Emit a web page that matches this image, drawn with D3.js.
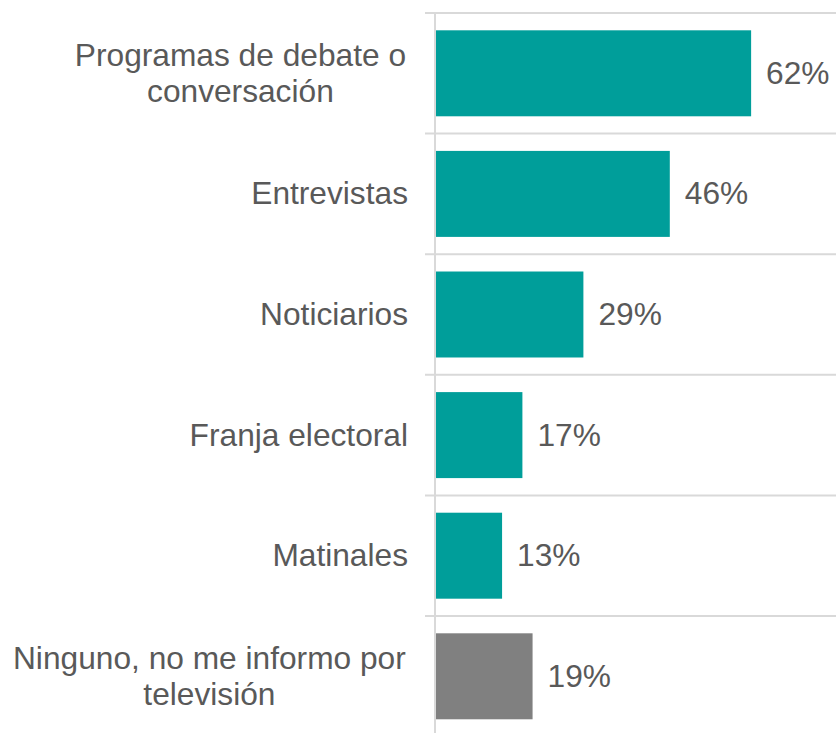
<!DOCTYPE html>
<html>
<head>
<meta charset="utf-8">
<script src="https://cdn.jsdelivr.net/npm/d3@7"></script>
<style>
  body { margin: 0; background: #fff; }
  svg { display: block; }
</style>
</head>
<body>
<div id="chart"></div>
<script>
  // Data
  var categories = [
    ["Programas de debate o", "conversación"],
    ["Entrevistas"],
    ["Noticiarios"],
    ["Franja electoral"],
    ["Matinales"],
    ["Ninguno, no me informo por", "televisión"]
  ];
  var values = [62, 46, 29, 17, 13, 19];
  var barColors = ["#009E9A", "#009E9A", "#009E9A", "#009E9A", "#009E9A", "#808080"];

  var width = 836, height = 733;
  var textColor = "#595959";
  var gridColor = "#D9D9D9";
  var fontSize = 31.7;

  var svg = d3.select("#chart").append("svg")
              .attr("width", width)
              .attr("height", height)
              .style("font-family", "'Liberation Sans', Arial, sans-serif");

  var idx = d3.range(categories.length);

  // scales
  var x = d3.scaleLinear()
            .domain([0, 78.7])
            .range([436, 836]);

  var pi = 0.287;
  var y = d3.scaleBand()
            .domain(idx)
            .range([13, 13 + 6 * 120.6])
            .paddingInner(pi)
            .paddingOuter(pi / 2);

  var step = y.step();

  // horizontal gridlines between categories
  svg.append("g")
     .selectAll("line")
     .data(idx)
     .enter()
     .append("line")
     .attr("x1", 425)
     .attr("x2", width)
     .attr("y1", function(d) { return y(d) - step * pi / 2; })
     .attr("y2", function(d) { return y(d) - step * pi / 2; })
     .attr("stroke", gridColor)
     .attr("stroke-width", 2);

  // vertical axis line
  svg.append("line")
     .attr("x1", x(0) - 1)
     .attr("x2", x(0) - 1)
     .attr("y1", 13)
     .attr("y2", height)
     .attr("stroke", gridColor)
     .attr("stroke-width", 2);

  // bars
  svg.append("g")
     .selectAll("rect")
     .data(idx)
     .enter()
     .append("rect")
     .attr("x", x(0))
     .attr("y", function(d) { return y(d); })
     .attr("width", function(d) { return x(values[d]) - x(0); })
     .attr("height", y.bandwidth())
     .attr("fill", function(d) { return barColors[d]; });

  // value labels
  svg.append("g")
     .selectAll("text")
     .data(idx)
     .enter()
     .append("text")
     .attr("x", function(d) { return x(values[d]) + 15; })
     .attr("y", function(d) { return y(d) + y.bandwidth() / 2 + 10.5; })
     .attr("fill", textColor)
     .attr("font-size", fontSize)
     .text(function(d) { return values[d] + "%"; });

  // category labels
  var labels = svg.append("g")
     .selectAll("text")
     .data(idx)
     .enter()
     .append("text")
     .attr("text-anchor", "middle")
     .attr("fill", textColor)
     .attr("font-size", fontSize);

  labels.each(function(d) {
    var lines = categories[d];
    var cy = y(d) + y.bandwidth() / 2 + 10.5;
    var el = d3.select(this);
    // single lines right aligned, wrapped lines centered on the block
    if (lines.length === 1) {
      el.attr("text-anchor", "end")
        .append("tspan")
        .attr("x", 408)
        .attr("y", cy)
        .text(lines[0]);
    } else {
      lines.forEach(function(line, i) {
        el.append("tspan")
          .attr("x", 0)
          .attr("y", cy + (i - 0.5) * 36)
          .text(line);
      });
      // center block so that its widest line ends near 406
      var w = this.getBBox().width;
      el.selectAll("tspan").attr("x", 406 - w / 2);
    }
  });
</script>
</body>
</html>
